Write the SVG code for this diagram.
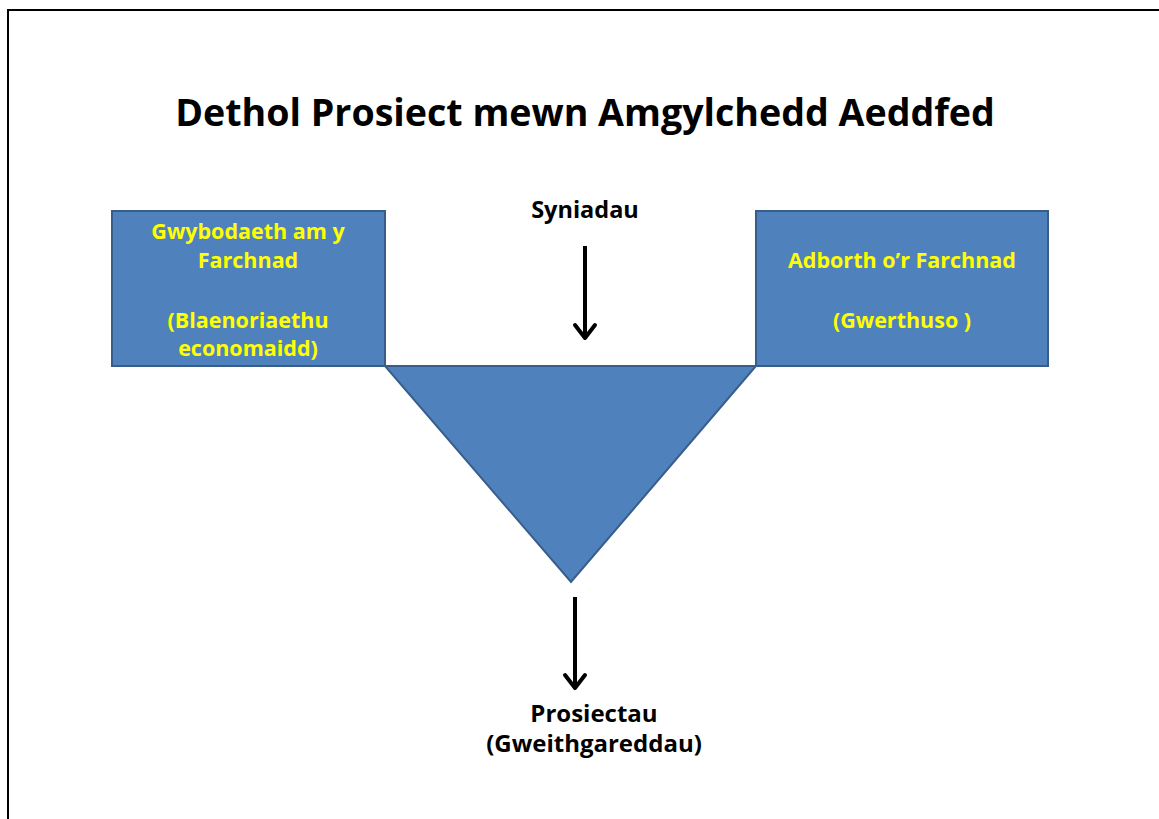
<svg xmlns="http://www.w3.org/2000/svg" width="1159" height="819" viewBox="0 0 1159 819">
<defs>
<style>
.t{font-family:"Open Sans",Lato,"Liberation Sans",sans-serif;font-weight:bold;text-anchor:middle}
.blk{fill:#000}
.yl{fill:#ffff00;font-size:21.5px}
.shape{fill:#4f81bd;stroke:#385d8a;stroke-width:2}
.conn{stroke:#000;stroke-width:4;fill:none}
</style>
</defs>
<rect width="1159" height="819" fill="#fff"/>
<path d="M8 819 V10 H1159" fill="none" stroke="#000" stroke-width="2"/>
<text class="t blk" x="585" y="126" font-size="37.6">Dethol Prosiect mewn Amgylchedd Aeddfed</text>
<g id="triangle"><polygon class="shape" points="385,366 756,366 571,582"/></g>
<g id="left-box">
<rect class="shape" x="112" y="211" width="273" height="155"/>
<text class="t yl" x="248" y="239">Gwybodaeth am y</text>
<text class="t yl" x="248" y="268">Farchnad</text>
<text class="t yl" x="248" y="328">(Blaenoriaethu</text>
<text class="t yl" x="248" y="356">economaidd)</text>
</g>
<g id="right-box">
<rect class="shape" x="756" y="211" width="292" height="155"/>
<text class="t yl" x="902" y="268">Adborth o’r Farchnad</text>
<text class="t yl" x="902" y="328">(Gwerthuso )</text>
</g>
<g id="syniadau"><text class="t blk" x="585" y="218" font-size="23.5">Syniadau</text></g>
<g id="prosiectau">
<text class="t blk" x="594" y="722" font-size="24">Prosiectau</text>
<text class="t blk" x="594" y="752" font-size="24">(Gweithgareddau)</text>
</g>
<g id="connectors">
<path class="conn" d="M585 246 V338"/>
<path class="conn" d="M575 325 L585 338 L595 325" stroke-linecap="round" stroke-linejoin="round"/>
<path class="conn" d="M575 597 V688"/>
<path class="conn" d="M565 675 L575 688 L585 675" stroke-linecap="round" stroke-linejoin="round"/>
</g>
</svg>
